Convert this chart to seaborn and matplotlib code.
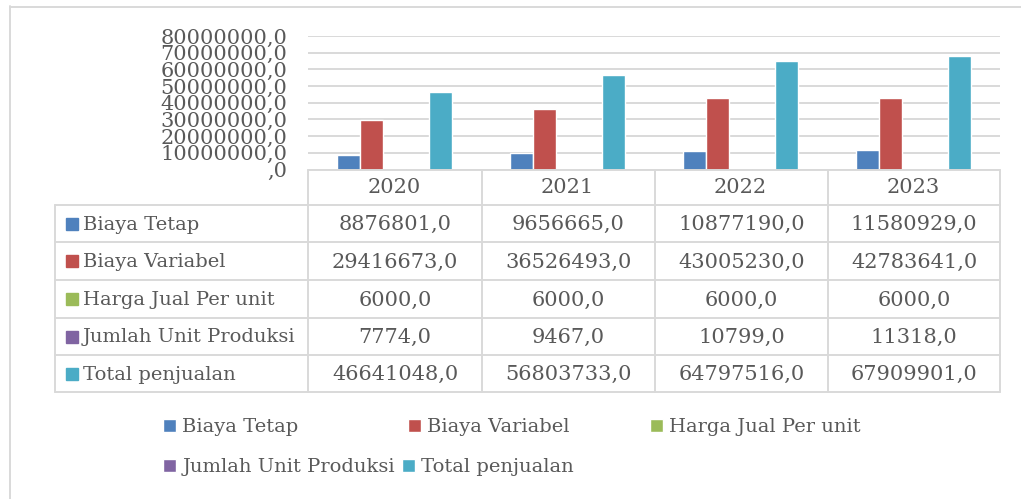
import numpy as np
import pandas as pd
import seaborn as sns
import matplotlib.pyplot as plt
from matplotlib.lines import Line2D
from matplotlib.patches import Rectangle

# ---------- data ----------
years = ['2020', '2021', '2022', '2023']
series = ['Biaya Tetap', 'Biaya Variabel', 'Harga Jual Per unit',
          'Jumlah Unit Produksi', 'Total penjualan']
biaya_tetap = [8876801.0, 9656665.0, 10877190.0, 11580929.0]
biaya_variabel = [29416673.0, 36526493.0, 43005230.0, 42783641.0]
harga_jual = [6000.0, 6000.0, 6000.0, 6000.0]
jumlah_unit = [7774.0, 9467.0, 10799.0, 11318.0]
total_penjualan = [46641048.0, 56803733.0, 64797516.0, 67909901.0]
y_ticks = [0, 10000000, 20000000, 30000000, 40000000,
           50000000, 60000000, 70000000, 80000000]

colors = ['#4F81BD', '#C0504D', '#9BBB59', '#8064A2', '#4BACC6']
values = [biaya_tetap, biaya_variabel, harga_jual, jumlah_unit, total_penjualan]

df = pd.DataFrame([
    {'year': yr, 'series': s, 'value': v}
    for s, vals in zip(series, values)
    for yr, v in zip(years, vals)
])

def fmt(v):
    s = f"{v:.1f}".replace('.', ',')
    return ',0' if v == 0 else s

# ---------- figure ----------
W, H = 1021, 499
FONT = 'DejaVu Serif'
TXT = '#595959'
GRID = '#D9D9D9'
FS = 14       # labels
FS_NUM = 15   # numbers

sns.set_style('white')
plt.rcParams['font.family'] = [FONT]

fig = plt.figure(figsize=(W / 100, H / 100), dpi=100)

def px(x):
    return x / W

def py(y):
    return 1 - y / H

# plot area in pixels: x 308..1000, y 36 (80M) .. 169.5 (0)
ax = fig.add_axes([px(308), py(169.5), px(1000) - px(308), py(36) - py(169.5)])

sns.barplot(data=df, x='year', y='value', hue='series', hue_order=series,
            order=years, palette=colors, saturation=1, width=0.66,
            gap=0, ax=ax)

handles, labels = ax.get_legend_handles_labels()
ax.get_legend().remove()

ax.set_xlim(-0.5, len(years) - 0.5)
ax.set_ylim(0, 80000000)
ax.set_yticks(y_ticks)
ax.set_yticklabels([fmt(t) for t in y_ticks], fontsize=FS_NUM, color=TXT)
ax.tick_params(axis='y', length=0, pad=15)
ax.set_xticks(range(len(years)))
ax.set_xticklabels(years, fontsize=FS_NUM, color=TXT)
ax.tick_params(axis='x', length=0, pad=6)
ax.set_xlabel('')
ax.set_ylabel('')
ax.yaxis.grid(True, color=GRID, linewidth=1.4)
ax.set_axisbelow(True)
for sp in ax.spines.values():
    sp.set_visible(False)

# ---------- data table ----------
col_x = [308, 482, 655, 828, 1000]
row_y = [205, 242, 280, 318, 355, 392]
lw = 1.4

def hline(x0, x1, y):
    fig.add_artist(Line2D([px(x0), px(x1)], [py(y), py(y)], color=GRID, lw=lw))

def vline(x, y0, y1):
    fig.add_artist(Line2D([px(x), px(x)], [py(y0), py(y1)], color=GRID, lw=lw))

hline(308, 1000, 170)
for y in row_y:
    hline(55, 1000, y)
for x in col_x:
    vline(x, 170, 392)
vline(55, 205, 392)

for i, (s, vals) in enumerate(zip(series, values)):
    yc = (row_y[i] + row_y[i + 1]) / 2
    fig.add_artist(Rectangle((px(66), py(yc + 6)), px(12), py(yc - 6) - py(yc + 6),
                             color=colors[i], transform=fig.transFigure))
    fig.text(px(83), py(yc + 1), s, fontsize=FS, color=TXT, va='center', ha='left')
    for j, v in enumerate(vals):
        xc = (col_x[j] + col_x[j + 1]) / 2
        fig.text(px(xc), py(yc + 1), fmt(v), fontsize=FS_NUM, color=TXT,
                 va='center', ha='center')

# ---------- legend ----------
leg_kw = dict(loc='upper left', frameon=False, fontsize=FS, borderpad=0,
              borderaxespad=0, handlelength=0.65, handleheight=0.65,
              handletextpad=0.35, columnspacing=0.35, labelcolor=TXT)
# first row: evenly spaced entries
for k, x0 in zip([0, 1, 2], [163, 408, 650]):
    fig.legend([handles[k]], [labels[k]], bbox_to_anchor=(px(x0), py(418)), **leg_kw)
# second row flows on
fig.legend([handles[3], handles[4]], [labels[3], labels[4]], ncol=2,
           bbox_to_anchor=(px(163), py(458)), **leg_kw)

# ---------- chart border ----------
hline(10, W + 5, 6.5)
vline(10, 6, H + 5)

fig.savefig('out.png', dpi=100)
